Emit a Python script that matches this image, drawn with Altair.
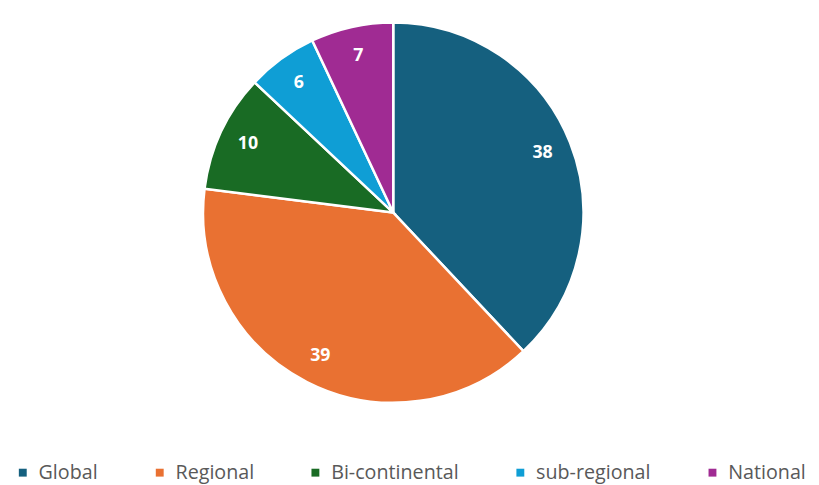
import altair as alt
import pandas as pd

categories = ["Global", "Regional", "Bi-continental", "sub-regional", "National"]
values = [38, 39, 10, 6, 7]
colors = ["#15607F", "#E97132", "#196B24", "#0F9ED5", "#A02B93"]

df = pd.DataFrame({"category": categories, "value": values, "idx": list(range(len(categories)))})

base = alt.Chart(df).encode(
    theta=alt.Theta("value:Q", stack=True),
    order=alt.Order("idx:Q"),
)

arcs = base.mark_arc(stroke="white", strokeWidth=2.5).encode(
    x=alt.value(386),
    y=alt.value(199),
    radius=alt.value(193),
    color=alt.Color(
        "category:N",
        scale=alt.Scale(domain=categories, range=colors),
        sort=categories,
        legend=alt.Legend(
            title=None,
            orient="none",
            legendX=0,
            legendY=453,
            direction="horizontal",
            columns=5,
            symbolType="square",
            symbolSize=64,
            symbolStrokeWidth=0,
            symbolOffset=0,
            labelFont="Open Sans",
            labelFontSize=20,
            labelColor="#595959",
            labelOffset=6,
            columnPadding=52,
            labelLimit=300,
        ),
    ),
)

labels = base.mark_text(
    color="white", font="Open Sans", fontWeight="bold", fontSize=18
).encode(
    x=alt.value(386),
    y=alt.value(199),
    radius=alt.value(163),
    text=alt.Text("value:Q"),
)

chart = (
    alt.layer(arcs, labels)
    .properties(width=803, height=469)
    .configure_view(stroke=None)
)

chart.save("out.html", embed_options={"renderer": "svg", "actions": False})
